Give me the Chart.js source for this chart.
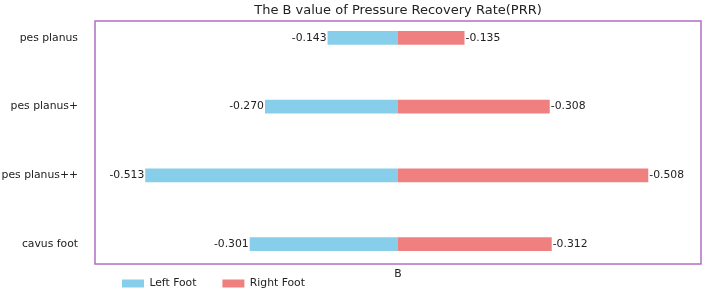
<!DOCTYPE html>
<html>
<head>
<meta charset="utf-8">
<script src="https://cdn.jsdelivr.net/npm/chart.js@4.4.0/dist/chart.umd.min.js"></script>
<style>
  html, body { margin: 0; padding: 0; background: #fff; }
  #wrap { width: 706px; height: 296px; }
</style>
</head>
<body>
<div id="wrap"><canvas id="prrChart"></canvas></div>
<script>
const categories = ['pes planus', 'pes planus+', 'pes planus++', 'cavus foot'];
const leftFoot = [-0.143, -0.270, -0.513, -0.301];
const rightFoot = [-0.135, -0.308, -0.508, -0.312];
const xTickLabels = ['B'];

const FONT = '"DejaVu Sans", sans-serif';
const LEGEND_PAD = 26;

// frame around the plot area
const frame = {
    id: 'frame',
    afterDraw(chart) {
        const a = chart.chartArea;
        const ctx = chart.ctx;
        ctx.save();
        ctx.strokeStyle = '#b26fc2';
        ctx.lineWidth = 1.5;
        ctx.strokeRect(a.left, a.top, a.right - a.left, a.bottom - a.top);
        ctx.restore();
    }
};

// value labels at the bar ends
const barLabels = {
    id: 'barLabels',
    afterDatasetsDraw(chart) {
        const ctx = chart.ctx;
        ctx.save();
        ctx.font = '10.8px ' + FONT;
        ctx.fillStyle = '#222';
        ctx.textBaseline = 'middle';
        chart.getDatasetMeta(0).data.forEach((bar, i) => {
            ctx.textAlign = 'right';
            ctx.fillText(leftFoot[i].toFixed(3), bar.x - 1, bar.y);
        });
        chart.getDatasetMeta(1).data.forEach((bar, i) => {
            ctx.textAlign = 'left';
            ctx.fillText(rightFoot[i].toFixed(3), bar.x + 1, bar.y);
        });
        ctx.restore();
    }
};

// put the legend under the left half of the plot, like the original
const legendPlace = {
    id: 'legendPlace',
    afterLayout(chart) {
        const lg = chart.legend;
        const w = lg.width, h = lg.height;
        lg.left = 122 - LEGEND_PAD;
        lg.top = 283.5 - 5.4 - LEGEND_PAD;
        lg.right = lg.left + w;
        lg.bottom = lg.top + h;
    }
};

new Chart(document.getElementById('prrChart'), {
    type: 'bar',
    data: {
        datasets: [{
            label: 'Left Foot',
            data: leftFoot.map((v, i) => ({ x: v, y: i })),
            backgroundColor: '#87ceeb',
            grouped: false
        }, {
            label: 'Right Foot',
            data: rightFoot.map((v, i) => ({ x: -v, y: i })),
            backgroundColor: '#f08080',
            grouped: false
        }]
    },
    options: {
        indexAxis: 'y',
        responsive: true,
        maintainAspectRatio: false,
        animation: false,
        layout: { padding: { left: 0, right: 5, top: 0, bottom: -30.8 } },
        datasets: { bar: { barPercentage: 0.2, categoryPercentage: 1.0 } },
        scales: {
            x: {
                type: 'linear',
                min: -0.615,
                max: 0.615,
                grid: { display: false, drawTicks: false },
                border: { display: false },
                afterBuildTicks: (s) => { s.ticks = [{ value: 0 }]; },
                afterFit: (s) => { s.height = 16; },
                ticks: {
                    padding: 4,
                    color: '#222',
                    font: { family: FONT, size: 10.8 },
                    callback: () => xTickLabels[0]
                }
            },
            y: {
                type: 'linear',
                reverse: true,
                offset: false,
                min: -0.247,
                max: 3.29,
                grid: { display: false, drawTicks: true, tickLength: 14 },
                border: { display: false },
                afterBuildTicks: (s) => { s.ticks = categories.map((c, i) => ({ value: i })); },
                afterFit: (s) => { s.width = 95; },
                ticks: {
                    padding: 3,
                    color: '#222',
                    font: { family: FONT, size: 10.8 },
                    callback: (v) => categories[v]
                }
            }
        },
        plugins: {
            title: {
                display: true,
                fullSize: false,
                text: 'The B value of Pressure Recovery Rate(PRR)',
                color: '#222',
                font: { family: FONT, size: 13, weight: 'normal' },
                padding: { top: 3, bottom: 2.4 }
            },
            legend: {
                position: 'bottom',
                align: 'start',
                labels: {
                    boxWidth: 22,
                    boxHeight: 8,
                    padding: LEGEND_PAD,
                    color: '#222',
                    font: { family: FONT, size: 10.8 }
                }
            },
            tooltip: { enabled: false }
        }
    },
    plugins: [frame, barLabels, legendPlace]
});
</script>
</body>
</html>
